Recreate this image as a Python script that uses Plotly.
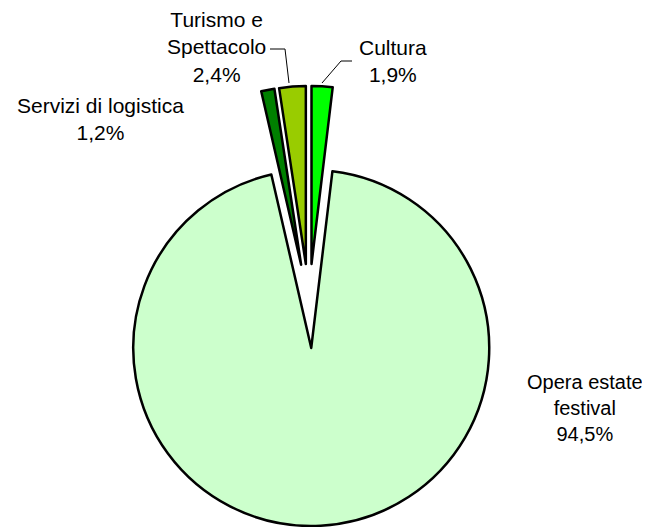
import plotly.graph_objects as go

labels = ["Cultura", "Opera estate festival", "Servizi di logistica", "Turismo e Spettacolo"]
values = [1.9, 94.5, 1.2, 2.4]
label_text = ["Cultura<br>1,9%", "Opera estate<br>festival<br>94,5%",
              "Servizi di logistica<br>1,2%", "Turismo e<br>Spettacolo<br>2,4%"]
colors = ["#00FF00", "#CCFFCC", "#008000", "#99CC00"]

# page body adds an 8px offset; figure is sized so it fits the 650x527 window
OFF = 8
W, H = 650 - OFF, 527 - OFF
# label centres in window pixels and font sizes
label_pos = [(393, 61), (585, 408), (101, 119), (216, 47)]
label_size = [21, 20, 21, 21]

cx, cy = 309 - OFF, 306 - OFF
half = 220
fig = go.Figure(go.Pie(
    labels=labels, values=values, sort=False, direction="clockwise", rotation=0,
    marker=dict(colors=colors, line=dict(color="black", width=2.5)),
    pull=[0.236] * 4, textinfo="none", hoverinfo="label+percent",
    domain=dict(x=[0.0, 2 * cx / W], y=[1 - (cy + half) / H, 1 - (cy - half) / H]),
    showlegend=False,
))

def px(x, y):
    return (x - OFF) / W, 1 - (y - OFF) / H

annotations = []
for t, (x, y), s in zip(label_text, label_pos, label_size):
    ax, ay = px(x, y)
    annotations.append(dict(text=t, x=ax, y=ay, xref="paper", yref="paper",
                            xanchor="center", yanchor="middle", showarrow=False,
                            font=dict(family="Liberation Sans, Arial", size=s, color="black")))

leaders = [
    [(270, 49), (285, 49), (289, 83)],
    [(352, 61), (341, 61), (322, 83)],
]
shapes = []
for pts in leaders:
    path = "M " + " L ".join(f"{px(x, y)[0]},{px(x, y)[1]}" for x, y in pts)
    shapes.append(dict(type="path", path=path, xref="paper", yref="paper",
                       line=dict(color="black", width=1)))

fig.update_layout(width=W, height=H, margin=dict(l=0, r=0, t=0, b=0),
                  paper_bgcolor="white", plot_bgcolor="white",
                  annotations=annotations, shapes=shapes)
fig.write_html("out.html")
